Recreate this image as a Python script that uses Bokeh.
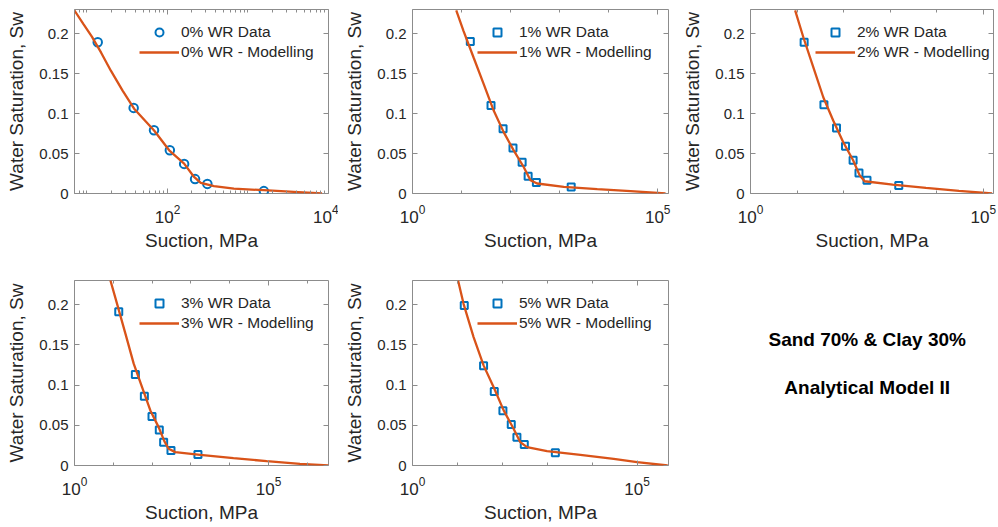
from bokeh.plotting import figure
from bokeh.models import Range1d, FixedTicker, LogAxis, LinearAxis, Legend, LegendItem, Label
from bokeh.layouts import column, row
from bokeh.embed import file_html
from bokeh.resources import INLINE

FONT = "Liberation Sans"
BLUE = "#0072BD"
ORANGE = "#D95319"
TXT = "#262626"
BOX = "#8c8c8c"

# ---------------- data ----------------
wr_levels = ["0%", "1%", "2%", "3%", "5%"]
marker_shapes = ["circle", "square", "square", "square", "square"]

suction_0 = [13.6, 38, 68, 107, 161, 220, 313, 1575]
sw_0 = [0.189, 0.107, 0.079, 0.054, 0.037, 0.018, 0.012, 0.003]
model_suction_0 = [6.97, 9.0, 11.5, 15.0, 19.8, 27.7, 38.5, 68.2, 105, 161, 214, 259, 378, 668, 1575, 3707, 8318]
model_sw_0 = [0.229, 0.212, 0.196, 0.176, 0.1535, 0.1286, 0.106, 0.0788, 0.054, 0.0374, 0.0207, 0.0132, 0.0091, 0.0062, 0.0041, 0.002, 0.0]

suction_1 = [15.1, 39.9, 70.3, 112, 172, 228, 336, 1722]
sw_1 = [0.190, 0.110, 0.081, 0.057, 0.039, 0.0215, 0.0137, 0.0082]
model_suction_1 = [7.8, 11.0, 17.6, 28.2, 45.2, 72.3, 115.6, 185, 254, 348, 1216, 5848, 27990, 144500]
model_sw_1 = [0.229, 0.203, 0.170, 0.137, 0.1037, 0.0767, 0.0539, 0.0331, 0.0166, 0.0125, 0.0082, 0.0054, 0.0029, 0.0]

suction_2 = [14.2, 37.8, 70.5, 110, 160, 214, 318, 1531]
sw_2 = [0.189, 0.111, 0.082, 0.059, 0.0415, 0.0257, 0.0166, 0.0100]
model_suction_2 = [9.1, 13.7, 22.4, 36.6, 59.8, 97.7, 160, 221, 283, 1135, 5861, 30060, 154900]
model_sw_2 = [0.229, 0.195, 0.1577, 0.1203, 0.0913, 0.0643, 0.0415, 0.0228, 0.0153, 0.0112, 0.007, 0.0032, 0.0]

suction_3 = [13.8, 37.0, 63.1, 99.3, 153, 198, 306, 1514]
sw_3 = [0.191, 0.113, 0.086, 0.061, 0.044, 0.029, 0.0187, 0.0137]
model_suction_3 = [8.4, 12.5, 20.5, 33.5, 55.0, 89.9, 147, 206, 266, 394, 1734, 12470, 89740, 645700, 3500000]
model_sw_3 = [0.2303, 0.201, 0.164, 0.1266, 0.0975, 0.0685, 0.0477, 0.0303, 0.0208, 0.0166, 0.0133, 0.0091, 0.0054, 0.0021, 0.0]

suction_5 = [14.2, 38.2, 66.1, 103, 158, 211, 308, 1514]
sw_5 = [0.199, 0.124, 0.092, 0.068, 0.051, 0.035, 0.026, 0.016]
model_suction_5 = [10.3, 13.7, 22.9, 38.2, 63.8, 107, 178, 251, 354, 989, 5458, 30130, 100000, 480000]
model_sw_5 = [0.2303, 0.201, 0.1597, 0.1245, 0.0975, 0.0685, 0.0457, 0.029, 0.0228, 0.0178, 0.0133, 0.0083, 0.0041, 0.0]

data_suction = [suction_0, suction_1, suction_2, suction_3, suction_5]
data_sw = [sw_0, sw_1, sw_2, sw_3, sw_5]
model_suction = [model_suction_0, model_suction_1, model_suction_2, model_suction_3, model_suction_5]
model_sw = [model_sw_0, model_sw_1, model_sw_2, model_sw_3, model_sw_5]

x_min = [7, 1, 1, 1, 1]
x_max = [1.0e4, 1.66e5, 1.66e5, 3.5e6, 5.0e5]
x_major = [[1e2, 1e4], [1, 1e5], [1, 1e5], [1, 1e5], [1, 1e5]]
x_minor = [
    [m * 10 ** k for k in range(0, 4) for m in range(1, 10) if 7 <= m * 10 ** k <= 1e4 and m * 10 ** k not in (100, 10000)],
    [10, 100, 1000, 10000],
    [10, 100, 1000, 10000],
    [10, 100, 1000, 10000, 1e6],
    [10, 100, 1000, 10000],
]
y_ticks = [0, 0.05, 0.1, 0.15, 0.2]
y_tick_labels = ["0", "0.05", "0.1", "0.15", "0.2"]
x_label = "Suction, MPa"
y_label = "Water Saturation, Sw"
title_lines = ["Sand 70% & Clay 30%", "Analytical Model II"]


def make_panel(i, frame_w, frame_h, b_right, b_top, b_bottom, legend_y):
    p = figure(x_axis_type="log", x_range=Range1d(x_min[i], x_max[i]), y_range=Range1d(0, 0.23),
               frame_width=frame_w, frame_height=frame_h, title_location=None,
               min_border_left=74, min_border_right=b_right, min_border_top=b_top, min_border_bottom=b_bottom,
               toolbar_location=None, output_backend="svg")
    p.grid.visible = False
    p.outline_line_color = BOX
    p.outline_line_width = 1
    p.outline_line_alpha = 1

    xt = FixedTicker(ticks=x_major[i], minor_ticks=x_minor[i])
    yt = FixedTicker(ticks=y_ticks, minor_ticks=[])

    xa = p.xaxis[0]
    xa.ticker = xt
    xa.axis_label = x_label
    ya = p.yaxis[0]
    ya.ticker = yt
    ya.major_label_overrides = dict(zip(y_ticks, y_tick_labels))
    ya.axis_label = y_label

    for ax in (xa, ya):
        ax.axis_line_color = None
        ax.major_tick_in = 5
        ax.major_tick_out = 0
        ax.minor_tick_in = 3
        ax.minor_tick_out = 0
        ax.major_tick_line_color = BOX
        ax.minor_tick_line_color = BOX
        ax.major_label_text_font = FONT
        ax.major_label_text_font_size = "15px"
        ax.major_label_text_color = TXT
        ax.axis_label_text_font = FONT
        ax.axis_label_text_font_size = "19px"
        ax.axis_label_text_font_style = "normal"
        ax.axis_label_text_color = TXT
    xa.major_label_text_font_size = "17px"
    xa.major_label_standoff = 11
    xa.axis_label_standoff = 4
    ya.major_label_standoff = 6
    ya.axis_label_standoff = 9

    top = LogAxis(ticker=xt, major_label_overrides={t: "" for t in x_major[i]})
    right = LinearAxis(ticker=yt, major_label_overrides={t: "" for t in y_ticks})
    for ax in (top, right):
        ax.axis_line_color = None
        ax.major_tick_in = 5
        ax.major_tick_out = 0
        ax.minor_tick_in = 3
        ax.minor_tick_out = 0
        ax.major_tick_line_color = BOX
        ax.minor_tick_line_color = BOX
        ax.major_label_text_font_size = "0px"
        ax.major_label_standoff = 0
    p.add_layout(top, "above")
    p.add_layout(right, "right")

    r_data = p.scatter(data_suction[i], data_sw[i], marker=marker_shapes[i],
                       size=8.5 if marker_shapes[i] == "circle" else 7,
                       line_color=BLUE, line_width=2, fill_color=None)
    r_line = p.line(model_suction[i], model_sw[i], line_color=ORANGE, line_width=2.3)

    legend = Legend(items=[LegendItem(label=wr_levels[i] + " WR Data", renderers=[r_data]),
                           LegendItem(label=wr_levels[i] + " WR - Modelling", renderers=[r_line])],
                    location=(65, legend_y), border_line_color=None, background_fill_alpha=0,
                    padding=0, margin=0, spacing=0, glyph_width=40, glyph_height=20,
                    label_height=20, label_standoff=2, label_text_font=FONT,
                    label_text_font_size="15.5px", label_text_color=TXT)
    p.add_layout(legend)
    return p


f1 = make_panel(0, 254, 184, 10, 9, 77, 131)
f2 = make_panel(1, 256, 184, 8, 9, 77, 131)
f3 = make_panel(2, 243, 184, 5, 9, 77, 131)
f4 = make_panel(3, 254, 185, 10, 10, 62, 132)
f5 = make_panel(4, 256, 185, 8, 10, 62, 132)

f6 = figure(frame_width=322, frame_height=257, min_border=0, toolbar_location=None, title_location=None,
            output_backend="svg", x_axis_location=None, y_axis_location=None)
f6.grid.visible = False
f6.outline_line_color = None
for txt, yy in zip(title_lines, [198, 150]):
    f6.add_layout(Label(x=190.7, y=yy, x_units="screen", y_units="screen", text=txt,
                        text_font=FONT, text_font_size="19px", text_font_style="bold",
                        text_color="#000000", text_align="center", text_baseline="middle"))

layout = column(row(f1, f2, f3), row(f4, f5, f6))
open("out.html", "w").write(file_html(layout, INLINE))
